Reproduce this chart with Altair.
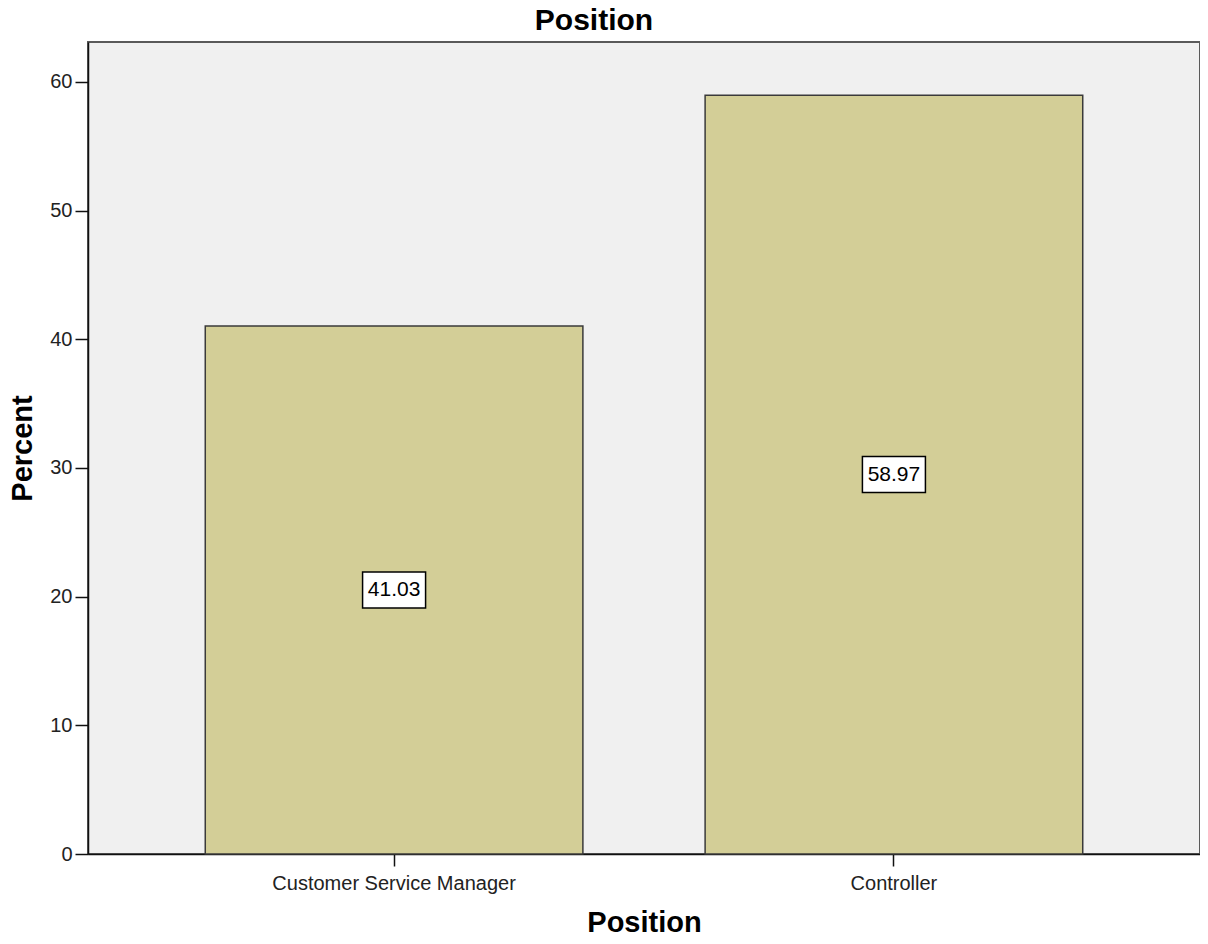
import altair as alt
import pandas as pd

positions = ["Customer Service Manager", "Controller"]
percents = [41.03, 58.97]
y_ticks = [0, 10, 20, 30, 40, 50, 60]

df = pd.DataFrame({"Position": positions, "Percent": percents})

FONT = "Liberation Sans"

x_axis = alt.Axis(
    title="Position",
    labelAngle=0,
    labelFontSize=20,
    labelFont=FONT,
    labelColor="#222222",
    labelPadding=7,
    labelLimit=0,
    tickSize=12,
    tickWidth=1.5,
    tickColor="#111111",
    domainColor="#111111",
    domainWidth=1.5,
    titleFont=FONT,
    titleFontSize=29,
    titleFontWeight="bold",
    titleColor="#000000",
    titlePadding=15,
)

y_axis = alt.Axis(
    title="Percent",
    values=y_ticks,
    grid=False,
    labelFontSize=20,
    labelFont=FONT,
    labelColor="#222222",
    labelPadding=3,
    tickSize=13,
    tickWidth=1.5,
    tickColor="#111111",
    domainColor="#111111",
    domainWidth=1.5,
    titleFont=FONT,
    titleFontSize=29,
    titleFontWeight="bold",
    titleColor="#000000",
    titlePadding=12,
)

x_scale = alt.Scale(paddingInner=0.2445, paddingOuter=0.2346)
y_scale = alt.Scale(domain=[0, 63.1], nice=False, zero=True)


def xenc():
    return alt.X("Position:N", sort=positions, scale=x_scale, axis=x_axis)


bars = alt.Chart(df).mark_bar(
    fill="#D3CE97", stroke="#3a3a3a", strokeWidth=1.5
).encode(
    x=xenc(),
    y=alt.Y("Percent:Q", scale=y_scale, axis=y_axis),
)

boxes = alt.Chart(df).transform_calculate(mid="datum.Percent / 2").mark_point(
    shape="M-1.75,-1L1.75,-1L1.75,1L-1.75,1Z",
    size=1296,
    filled=True,
    fill="white",
    stroke="black",
    strokeWidth=1.5,
    opacity=1,
).encode(
    x=xenc(),
    y=alt.Y("mid:Q", scale=y_scale, axis=y_axis),
)

labels = alt.Chart(df).transform_calculate(mid="datum.Percent / 2").mark_text(
    font=FONT, fontSize=21, color="black", baseline="middle", align="center"
).encode(
    x=xenc(),
    y=alt.Y("mid:Q", scale=y_scale, axis=y_axis),
    text=alt.Text("Percent:Q", format=".2f"),
)

chart = alt.layer(bars, boxes, labels).properties(
    width=1112,
    height=812,
    padding={"left": 80, "top": 34, "right": 0, "bottom": 82},
    autosize="none",
    background="white",
    title=alt.Title(
        "Position",
        font=FONT,
        fontSize=30,
        fontWeight="bold",
        color="#000000",
        dx=-50,
        offset=6,
    ),
).configure_view(
    stroke="#5a5a5a", strokeWidth=2, fill="#F0F0F0"
)

chart.save("out.html", embed_options={"renderer": "svg", "actions": False})
